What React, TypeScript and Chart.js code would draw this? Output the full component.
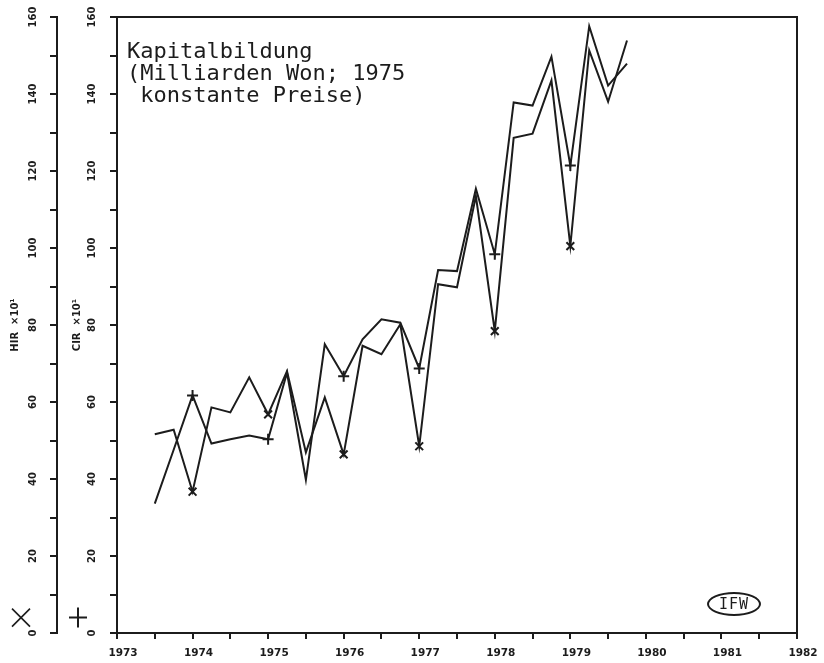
import React, { useEffect, useRef } from 'react';
import { Chart, registerables } from 'chart.js';

Chart.register(...registerables);

// ---- data ----
const quarters = [
  1973.5, 1973.75, 1974, 1974.25, 1974.5, 1974.75, 1975, 1975.25, 1975.5, 1975.75,
  1976, 1976.25, 1976.5, 1976.75, 1977, 1977.25, 1977.5, 1977.75, 1978, 1978.25,
  1978.5, 1978.75, 1979, 1979.25, 1979.5, 1979.75,
];
// HIR series (marked with ×)
const hirValues = [
  51.6, 52.8, 36.7, 58.6, 57.3, 66.4, 56.8, 68.0, 46.9, 61.2,
  46.4, 74.6, 72.4, 80.2, 48.5, 90.6, 89.8, 113.5, 78.4, 128.6,
  129.7, 143.5, 100.5, 151.3, 138.0, 153.9,
];
// CIR series (marked with +)
const cirValues = [
  33.6, 47.6, 61.7, 49.2, 50.3, 51.3, 50.3, 67.6, 39.8, 75.0,
  66.7, 76.3, 81.5, 80.6, 68.7, 94.3, 94.0, 115.4, 98.4, 137.8,
  137.0, 149.7, 121.4, 157.6, 142.2, 147.9,
];
const markerYears = [1974, 1975, 1976, 1977, 1978, 1979];

const xMin = 1973;
const xMax = 1982;
const xStep = 0.5;
const yMin = 0;
const yMax = 160;
const yStep = 10;
const yLabelStep = 20;

const titleLines = ['Kapitalbildung', '(Milliarden Won; 1975', ' konstante Preise)'];
const hirTitle = 'HIR  \u00d710\u00b9';
const cirTitle = 'CIR  \u00d710\u00b9';
const logoText = 'IFW';

const INK = '#1c1c1c';

const legendGlyphs = {
  id: 'legendGlyphs',
  afterDraw(chart: any) {
    const ctx = chart.ctx;
    const y = chart.scales.y;
    const y2 = chart.scales.y2;
    const cy = y.getPixelForValue(4);
    ctx.save();
    ctx.strokeStyle = INK;
    ctx.lineCap = 'butt';
    // × for HIR
    const cx1 = y2.left + 21;
    ctx.lineWidth = 1.6;
    ctx.beginPath();
    ctx.moveTo(cx1 - 9, cy - 9);
    ctx.lineTo(cx1 + 9, cy + 9);
    ctx.moveTo(cx1 + 9, cy - 9);
    ctx.lineTo(cx1 - 9, cy + 9);
    ctx.stroke();
    // + for CIR
    const cx2 = y.left + 21;
    ctx.lineWidth = 2;
    ctx.beginPath();
    ctx.moveTo(cx2 - 9, cy);
    ctx.lineTo(cx2 + 9, cy);
    ctx.moveTo(cx2, cy - 10);
    ctx.lineTo(cx2, cy + 10);
    ctx.stroke();
    ctx.restore();
  },
};

function makeDataset(label: string, values: number[], marker: string) {
  return {
    label,
    data: quarters.map((q, i) => ({ x: q, y: values[i] })),
    borderColor: INK,
    borderWidth: 2,
    tension: 0,
    fill: false,
    pointStyle: quarters.map((q) => (markerYears.includes(q) ? marker : 'circle')),
    pointRadius: quarters.map((q) => (markerYears.includes(q) ? 5.5 : 0)),
    pointBorderWidth: 2,
    pointBorderColor: INK,
    pointBackgroundColor: INK,
    xAxisID: 'x',
    yAxisID: 'y',
  };
}

function yAxis(weight: number, title: string, titlePad: number, tickPad: number, width: number) {
  return {
    type: 'linear',
    position: 'left',
    weight,
    min: yMin,
    max: yMax,
    ticks: {
      stepSize: yStep,
      autoSkip: false,
      minRotation: 90,
      maxRotation: 90,
      crossAlign: 'center',
      padding: tickPad,
      color: INK,
      font: { family: 'DejaVu Sans', size: 10, weight: 'bold' },
      callback: (v: number) => (v % yLabelStep === 0 ? String(v) : ''),
    },
    grid: {
      drawOnChartArea: false,
      drawTicks: true,
      tickLength: 7,
      color: INK,
      lineWidth: 2,
    },
    border: { display: true, color: INK, width: 2 },
    title: {
      display: true,
      text: title,
      color: INK,
      font: { family: 'DejaVu Sans', size: 10, weight: 'bold' },
      padding: { top: titlePad, bottom: 0 },
    },
    afterFit: (s: any) => {
      s.width = width;
    },
  };
}

export default function App() {
  const canvasRef = useRef<HTMLCanvasElement | null>(null);

  useEffect(() => {
    if (!canvasRef.current) return;
    const chart = new Chart(canvasRef.current, {
      type: 'line',
      data: {
        datasets: [makeDataset('HIR', hirValues, 'crossRot'), makeDataset('CIR', cirValues, 'cross')],
      },
      options: {
        animation: false,
        responsive: false,
        maintainAspectRatio: false,
        layout: { padding: { top: 17, right: 27, left: 0, bottom: 0 } },
        plugins: {
          legend: { display: false },
          tooltip: { enabled: false },
          title: { display: false },
        },
        scales: {
          x: {
            type: 'linear',
            position: 'bottom',
            min: xMin,
            max: xMax,
            ticks: {
              stepSize: xStep,
              autoSkip: false,
              maxRotation: 0,
              minRotation: 0,
              labelOffset: 6,
              padding: 8,
              color: INK,
              font: { family: 'DejaVu Sans', size: 10.5, weight: 'bold' },
              callback: (v: number) => (Number.isInteger(v) ? String(v) : ''),
            },
            grid: {
              drawOnChartArea: false,
              drawTicks: true,
              tickLength: 6,
              color: INK,
              lineWidth: 2,
            },
            border: { display: true, color: INK, width: 2 },
            afterFit: (s: any) => {
              s.height = 30;
            },
          },
          xTop: {
            type: 'linear',
            position: 'top',
            min: xMin,
            max: xMax,
            ticks: { display: false },
            grid: { display: false, drawTicks: false },
            border: { display: true, color: INK, width: 2 },
            afterFit: (s: any) => {
              s.height = 0;
            },
          },
          yRight: {
            type: 'linear',
            position: 'right',
            min: yMin,
            max: yMax,
            ticks: { display: false },
            grid: { display: false, drawTicks: false },
            border: { display: true, color: INK, width: 2 },
            afterFit: (s: any) => {
              s.width = 0;
            },
          },
          y: yAxis(0, cirTitle, 14, 7.5, 60),
          y2: yAxis(1, hirTitle, 9, 6.5, 57),
        } as any,
      },
      plugins: [legendGlyphs],
    } as any);
    return () => chart.destroy();
  }, []);

  return (
    <div style={{ position: 'absolute', left: 0, top: 0, width: 824, height: 663, background: '#fff' }}>
      <canvas ref={canvasRef} width={824} height={663} style={{ display: 'block', width: 824, height: 663 }} />
      <div
        style={{
          position: 'absolute',
          left: 127,
          top: 40,
          fontFamily: '"DejaVu Sans Mono", monospace',
          fontSize: 22,
          lineHeight: '22px',
          color: INK,
          whiteSpace: 'pre',
        }}
      >
        {titleLines.map((t, i) => (
          <div key={i}>{t}</div>
        ))}
      </div>
      <div
        style={{
          position: 'absolute',
          left: 707,
          top: 592,
          width: 50,
          height: 20,
          border: `2px solid ${INK}`,
          borderRadius: '50%',
          display: 'flex',
          alignItems: 'center',
          justifyContent: 'center',
          fontFamily: '"DejaVu Sans Mono", monospace',
          fontSize: 15,
          color: INK,
          letterSpacing: 1,
        }}
      >
        {logoText}
      </div>
    </div>
  );
}
